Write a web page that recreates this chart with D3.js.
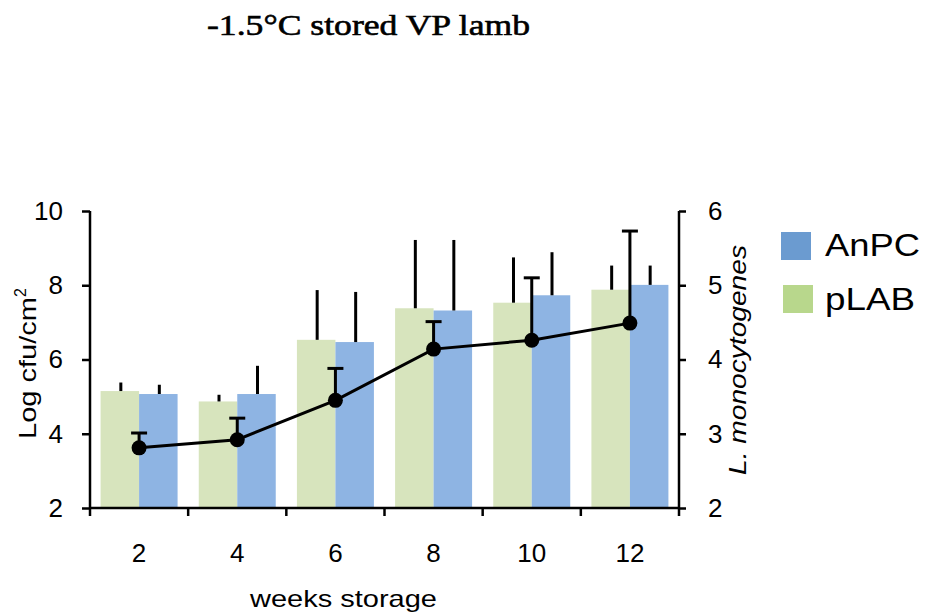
<!DOCTYPE html>
<html lang="en">
<head>
    <meta charset="UTF-8">
    <title>-1.5°C stored VP lamb</title>
    <script src="https://cdn.jsdelivr.net/npm/d3@7"></script>
    <style>
        body{
            margin: 0;
            background-color: white;
        }
        #canvas{
            display: block;
        }
        .tick_label{
            font-family: "Liberation Sans", Arial, sans-serif;
            font-size: 26px;
            fill: black;
        }
        .axis_title{
            font-family: "Liberation Sans", Arial, sans-serif;
            font-size: 24px;
            fill: black;
        }
        .legend_text{
            font-family: "Liberation Sans", Arial, sans-serif;
            font-size: 31px;
            fill: black;
        }
        .title{
            font-family: "Liberation Serif", "Times New Roman", serif;
            font-size: 30px;
            fill: black;
            stroke: black;
            stroke-width: 0.6px;
        }
    </style>
</head>
<body>

<svg id="canvas" width="940" height="613" viewBox="0 0 940 613"></svg>

<script>
    // data
    let weeks = [2, 4, 6, 8, 10, 12]
    let pLAB = [5.15, 4.87, 6.53, 7.38, 7.53, 7.88]
    let pLAB_err = [0.23, 0.18, 1.34, 1.84, 1.22, 0.65]
    let AnPC = [5.07, 5.07, 6.47, 7.32, 7.73, 8.01]
    let AnPC_err = [0.25, 0.76, 1.35, 1.90, 1.16, 0.52]
    let listeria = [2.81, 2.92, 3.45, 4.14, 4.26, 4.49]
    let listeria_err = [0.20, 0.29, 0.43, 0.37, 0.84, 1.24]
    let left_ticks = [2, 4, 6, 8, 10]
    let right_ticks = [2, 3, 4, 5, 6]

    let series = ["pLAB", "AnPC"]
    let bar_colors = {pLAB: "#d7e4bd", AnPC: "#8eb4e3"}
    let legend_colors = {AnPC: "#6b9bd0", pLAB: "#b8d78c"}

    let svg = d3.select("#canvas")
    let plot = {left: 90, right: 679, top: 211, bottom: 508}

    let xScale = d3.scaleBand().domain(weeks).range([plot.left, plot.right]).padding(0)
    let xInner = d3.scaleBand().domain(series)
        .range([0, xScale.bandwidth()]).paddingInner(0).paddingOuter(0.275)
    let yLeft = d3.scaleLinear().domain([2, 10]).range([plot.bottom, plot.top])
    let yRight = d3.scaleLinear().domain([2, 6]).range([plot.bottom, plot.top])

    // title
    svg.append("text").attr("class", "title")
        .attr("x", 207).attr("y", 35)
        .attr("textLength", 323).attr("lengthAdjust", "spacingAndGlyphs")
        .text("-1.5°C stored VP lamb")

    // bars
    let rows = weeks.map((w, i) => ({
        week: w,
        values: [
            {key: "pLAB", v: pLAB[i], e: pLAB_err[i]},
            {key: "AnPC", v: AnPC[i], e: AnPC_err[i]}
        ]
    }))

    let groups = svg.append("g").selectAll("g")
        .data(rows).enter().append("g")
        .attr("transform", d => `translate(${xScale(d.week)},0)`)

    groups.selectAll("rect")
        .data(d => d.values).enter().append("rect")
        .attr("x", d => xInner(d.key))
        .attr("width", xInner.bandwidth())
        .attr("y", d => yLeft(d.v))
        .attr("height", d => yLeft(2) - yLeft(d.v))
        .attr("fill", d => bar_colors[d.key])

    // upper error bars of the bars
    groups.selectAll("line.err")
        .data(d => d.values).enter().append("line")
        .attr("class", "err")
        .attr("x1", d => xInner(d.key) + xInner.bandwidth() / 2 + 1)
        .attr("x2", d => xInner(d.key) + xInner.bandwidth() / 2 + 1)
        .attr("y1", d => yLeft(d.v))
        .attr("y2", d => yLeft(d.v + d.e))
        .attr("stroke", "black").attr("stroke-width", 3)

    // L. monocytogenes line (right axis)
    let cx = w => xScale(w) + xScale.bandwidth() / 2
    let lineGenerator = d3.line()
        .x((d, i) => cx(weeks[i]))
        .y(d => yRight(d))

    let lineLayer = svg.append("g")
    lineLayer.selectAll("line.lm_err")
        .data(listeria).enter().append("line")
        .attr("x1", (d, i) => cx(weeks[i])).attr("x2", (d, i) => cx(weeks[i]))
        .attr("y1", d => yRight(d))
        .attr("y2", (d, i) => yRight(d + listeria_err[i]))
        .attr("stroke", "black").attr("stroke-width", 3)
    lineLayer.selectAll("line.lm_cap")
        .data(listeria).enter().append("line")
        .attr("x1", (d, i) => cx(weeks[i]) - 8).attr("x2", (d, i) => cx(weeks[i]) + 8)
        .attr("y1", (d, i) => yRight(d + listeria_err[i]))
        .attr("y2", (d, i) => yRight(d + listeria_err[i]))
        .attr("stroke", "black").attr("stroke-width", 3)
    lineLayer.append("path")
        .attr("d", lineGenerator(listeria))
        .attr("fill", "none").attr("stroke", "black").attr("stroke-width", 3)
    lineLayer.selectAll("circle")
        .data(listeria).enter().append("circle")
        .attr("cx", (d, i) => cx(weeks[i]))
        .attr("cy", d => yRight(d))
        .attr("r", 7.5)
        .attr("fill", "black")

    // axes
    let axisLeft = d3.axisLeft(yLeft).tickValues(left_ticks).tickSize(8).tickPadding(19)
        .tickFormat(d3.format("d"))
    let axisRight = d3.axisRight(yRight).tickValues(right_ticks).tickSize(7).tickPadding(22)
        .tickFormat(d3.format("d"))
    let gl = svg.append("g").attr("transform", `translate(${plot.left},0)`).call(axisLeft)
    let gr = svg.append("g").attr("transform", `translate(${plot.right},0)`).call(axisRight)
    ;[gl, gr].forEach(g => {
        g.select(".domain").attr("d", `M0,${plot.top}V${plot.bottom}`)
            .attr("stroke", "black").attr("stroke-width", 2.5)
        g.selectAll(".tick line").attr("stroke", "black").attr("stroke-width", 2.5)
        g.selectAll(".tick text").attr("class", "tick_label")
            .attr("font-size", null).attr("font-family", null)
    })

    // x axis: line with ticks at band edges, labels at band centers
    let gx = svg.append("g")
    gx.append("line")
        .attr("x1", plot.left).attr("x2", plot.right)
        .attr("y1", plot.bottom).attr("y2", plot.bottom)
        .attr("stroke", "black").attr("stroke-width", 2.5)
    gx.selectAll("line.edge")
        .data(weeks.concat(["end"])).enter().append("line")
        .attr("x1", d => d === "end" ? plot.right : xScale(d))
        .attr("x2", d => d === "end" ? plot.right : xScale(d))
        .attr("y1", plot.bottom).attr("y2", plot.bottom + 8)
        .attr("stroke", "black").attr("stroke-width", 2.5)
    gx.selectAll("text")
        .data(weeks).enter().append("text")
        .attr("class", "tick_label")
        .attr("x", d => cx(d))
        .attr("y", 562)
        .attr("text-anchor", "middle")
        .text(d => d)

    // axis titles
    svg.append("text").attr("class", "axis_title")
        .attr("x", 250).attr("y", 607)
        .attr("textLength", 187).attr("lengthAdjust", "spacingAndGlyphs")
        .text("weeks storage")

    let yTitle = svg.append("text").attr("class", "axis_title")
        .attr("font-size", "25px")
        .attr("transform", "translate(36,439) rotate(-90)")
    yTitle.append("tspan")
        .attr("textLength", 142).attr("lengthAdjust", "spacingAndGlyphs")
        .text("Log cfu/cm")
    yTitle.append("tspan").attr("font-size", "16px").attr("dy", -10).text("2")

    svg.append("text").attr("class", "axis_title")
        .attr("font-style", "italic")
        .attr("transform", "translate(746,475) rotate(-90)")
        .attr("textLength", 230).attr("lengthAdjust", "spacingAndGlyphs")
        .text("L. monocytogenes")

    // legend
    let legend_items = [
        {key: "AnPC", x: 781, y: 232, tx: 825, ty: 256, tl: 95},
        {key: "pLAB", x: 783, y: 285, tx: 825, ty: 310, tl: 90}
    ]
    let legend = svg.append("g").selectAll("g")
        .data(legend_items).enter().append("g")
    legend.append("rect")
        .attr("x", d => d.x).attr("y", d => d.y)
        .attr("width", 30).attr("height", 28)
        .attr("fill", d => legend_colors[d.key])
    legend.append("text").attr("class", "legend_text")
        .attr("x", d => d.tx).attr("y", d => d.ty)
        .attr("textLength", d => d.tl).attr("lengthAdjust", "spacingAndGlyphs")
        .text(d => d.key)
</script>
</body>
</html>
